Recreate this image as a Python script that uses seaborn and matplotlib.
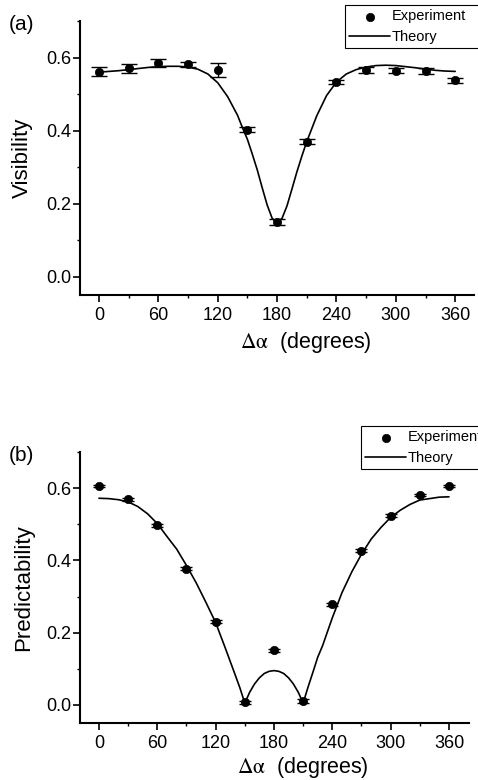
import numpy as np
import pandas as pd
import matplotlib
matplotlib.use("Agg")
import matplotlib.pyplot as plt
from matplotlib.ticker import MultipleLocator
import seaborn as sns

# ---------------- data ----------------
angles = [0, 30, 60, 90, 120, 150, 180, 210, 240, 270, 300, 330, 360]

visibility = [0.561, 0.571, 0.584, 0.582, 0.566, 0.402, 0.150, 0.370, 0.533, 0.566, 0.564, 0.563, 0.538]
visibility_err = [0.012, 0.012, 0.011, 0.007, 0.020, 0.007, 0.008, 0.007, 0.006, 0.007, 0.006, 0.007, 0.007]

predictability = [0.606, 0.569, 0.497, 0.377, 0.230, 0.007, 0.151, 0.011, 0.278, 0.427, 0.524, 0.581, 0.606]
predictability_err = [0.004, 0.004, 0.004, 0.004, 0.004, 0.004, 0.005, 0.005, 0.004, 0.004, 0.004, 0.004, 0.004]

theory_vis_angles = [0, 10, 20, 30, 40, 50, 60, 70, 80, 90, 100, 110, 120, 130, 140, 145, 150,
                     155, 160, 165, 170, 175, 180, 185, 190, 195, 200, 205, 210, 215, 220, 230,
                     240, 250, 260, 270, 280, 290, 300, 310, 320, 330, 340, 350, 360]
theory_vis = [0.560, 0.562, 0.564, 0.567, 0.570, 0.573, 0.575, 0.576, 0.576, 0.574, 0.568, 0.555,
              0.531, 0.493, 0.442, 0.408, 0.376, 0.335, 0.292, 0.243, 0.196, 0.160, 0.148, 0.160,
              0.194, 0.240, 0.287, 0.330, 0.370, 0.405, 0.440, 0.496, 0.533, 0.555, 0.567, 0.574,
              0.578, 0.579, 0.578, 0.575, 0.572, 0.568, 0.565, 0.563, 0.562]

theory_pred_angles = [0, 10, 20, 30, 40, 50, 60, 70, 80, 90, 100, 110, 120, 130, 140, 145, 150,
                      155, 160, 165, 170, 175, 180, 185, 190, 195, 200, 205, 210, 215, 220, 225,
                      230, 240, 250, 260, 270, 280, 290, 300, 310, 320, 330, 340, 350, 360]
theory_pred = [0.572, 0.571, 0.568, 0.562, 0.549, 0.529, 0.502, 0.466, 0.431, 0.386, 0.338, 0.284,
               0.228, 0.157, 0.084, 0.047, 0.005, 0.035, 0.058, 0.075, 0.087, 0.093, 0.095, 0.093,
               0.087, 0.075, 0.058, 0.035, 0.005, 0.049, 0.090, 0.132, 0.164, 0.241, 0.311, 0.368,
               0.417, 0.459, 0.491, 0.519, 0.539, 0.555, 0.567, 0.571, 0.575, 0.576]

x_ticks = [0, 60, 120, 180, 240, 300, 360]
y_ticks = [0.0, 0.2, 0.4, 0.6]
panel_labels = ["(a)", "(b)"]
y_labels = ["Visibility", "Predictability"]
x_label = r"$\mathrm{\Delta\alpha}$  (degrees)"
legend_labels = ["Experiment", "Theory"]

# ---------------- style ----------------
sns.set_theme(style="ticks")
plt.rcParams["font.family"] = ["Liberation Sans", "DejaVu Sans"]
plt.rcParams["mathtext.fontset"] = "stix"
plt.rcParams["text.color"] = "black"
plt.rcParams["axes.labelcolor"] = "black"
plt.rcParams["xtick.color"] = "black"
plt.rcParams["ytick.color"] = "black"
plt.rcParams["axes.edgecolor"] = "black"

W, H = 478, 780
fig = plt.figure(figsize=(W / 100, H / 100), dpi=100)

# axes rectangles in pixels: left, right, top, bottom
rects = [(80, 474, 21, 295), (80, 469, 452, 723)]
xlims = [(-19.2, 379.0), (-19.5, 380.6)]
legend_pos = [(345, 5), (361, 426)]
label_y = [-0.128, -0.118]
panel_y = [25, 455]

datasets = [
    (visibility, visibility_err, theory_vis_angles, theory_vis, 5.5),
    (predictability, predictability_err, theory_pred_angles, theory_pred, 4.5),
]

for i, (rect, (yv, ye, tx, ty, cap)) in enumerate(zip(rects, datasets)):
    l, r, t, b = rect
    ax = fig.add_axes([l / W, 1 - b / H, (r - l) / W, (b - t) / H])

    ax.errorbar(angles, yv, yerr=ye, fmt="none", ecolor="black", elinewidth=1.0,
                capsize=cap, capthick=1.0, zorder=3)
    sns.scatterplot(x=angles, y=yv, ax=ax, color="black", edgecolor="black", s=36,
                    linewidth=0.5, label=legend_labels[0], zorder=4)
    sns.lineplot(x=tx, y=ty, ax=ax, color="black", linewidth=1.2, label=legend_labels[1],
                 estimator=None, sort=False, zorder=2)

    ax.set_xlim(*xlims[i])
    ax.set_ylim(-0.05, 0.70)
    ax.set_xticks(x_ticks)
    ax.set_yticks(y_ticks)
    ax.set_yticklabels([f"{v:.1f}" for v in y_ticks])
    ax.xaxis.set_minor_locator(MultipleLocator(30))
    ax.yaxis.set_minor_locator(MultipleLocator(0.1))
    ax.tick_params(which="major", direction="out", length=5, width=1.2, labelsize=13)
    ax.tick_params(axis="x", which="major", pad=4.0)
    ax.tick_params(axis="y", which="major", pad=1.5)
    ax.tick_params(which="minor", direction="out", length=2.5, width=1.0)
    for side in ["left", "bottom"]:
        ax.spines[side].set_linewidth(1.5)
    sns.despine(ax=ax)

    ax.set_ylabel(y_labels[i], fontsize=16)
    ax.yaxis.set_label_coords(-0.119, 0.5)
    ax.set_xlabel(x_label, fontsize=15.5)
    ax.xaxis.set_label_coords(0.573, label_y[i])

    handles, labels = ax.get_legend_handles_labels()
    order = [labels.index(lab) for lab in legend_labels]
    lx, ly = legend_pos[i]
    leg = ax.legend([handles[k] for k in order], [labels[k] for k in order],
                    loc="upper left", bbox_to_anchor=(lx / W, 1 - ly / H, (495 - lx) / W, 0),
                    bbox_transform=fig.transFigure, mode="expand", fontsize=10.5,
                    frameon=True, fancybox=False, framealpha=1, edgecolor="black",
                    borderpad=0.3, borderaxespad=0, handlelength=2.8, handletextpad=0.1,
                    labelspacing=0.45, scatterpoints=1)
    leg.get_frame().set_linewidth(0.8)

    fig.text(9 / W, 1 - panel_y[i] / H, panel_labels[i], fontsize=15, va="center", ha="left")

fig.savefig("out.png", dpi=100)
